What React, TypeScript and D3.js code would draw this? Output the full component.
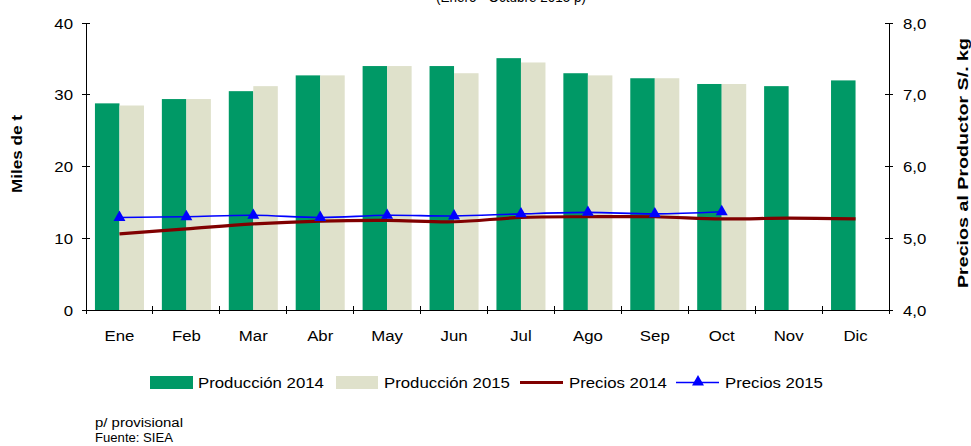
import React from "react";
import * as d3 from "d3";

const months = ["Ene", "Feb", "Mar", "Abr", "May", "Jun", "Jul", "Ago", "Sep", "Oct", "Nov", "Dic"];
const prod2014 = [28.8, 29.4, 30.5, 32.7, 34.0, 34.0, 35.1, 33.0, 32.3, 31.5, 31.2, 32.0];
const prod2015 = [28.5, 29.4, 31.2, 32.7, 34.0, 33.0, 34.5, 32.7, 32.3, 31.5, null, null];
const precios2014 = [5.06, 5.13, 5.2, 5.24, 5.25, 5.23, 5.29, 5.3, 5.3, 5.27, 5.28, 5.27];
const precios2015 = [5.29, 5.3, 5.32, 5.29, 5.32, 5.31, 5.34, 5.36, 5.34, 5.37, null, null];
const leftTicks = [0, 10, 20, 30, 40];
const rightTicks = [4, 5, 6, 7, 8];
const legendLabels = ["Producción 2014", "Producción 2015", "Precios 2014", "Precios 2015"];

const GREEN = "#009966";
const BEIGE = "#DFE1CB";
const RED = "#800000";
const BLUE = "#0000FF";
const FONT = "'Liberation Sans', Arial, sans-serif";

export default function App() {
  const W = 971, H = 446;
  const left = 86, right = 889, top = 23, bottom = 310;

  const x0 = d3.scaleBand<string>().domain(months).range([left, right]).paddingInner(0).paddingOuter(0);
  const x1 = d3.scaleBand<string>().domain(["a", "b"]).range([0, x0.bandwidth()]).paddingInner(0).paddingOuter(0.365);
  const yL = d3.scaleLinear().domain([0, 40]).range([bottom, top]);
  const yR = d3.scaleLinear().domain([4, 8]).range([bottom, top]);

  const cx = (m: string) => (x0(m) as number) + x0.bandwidth() / 2;

  const line = d3
    .line<[string, number | null]>()
    .defined((d) => d[1] != null)
    .x((d) => cx(d[0]))
    .y((d) => yR(d[1] as number))
    .curve(d3.curveCatmullRom.alpha(0.5));

  const p14 = months.map((m, i) => [m, precios2014[i]] as [string, number | null]);
  const p15 = months.map((m, i) => [m, precios2015[i]] as [string, number | null]).filter((d) => d[1] != null);

  const tri = d3.symbol().type(d3.symbolTriangle).size(62)();

  const sx = 1.12;
  const T = (p: { x: number; y: number; anchor?: string; size?: number; weight?: string; children: any }) => {
    const { x, y, anchor = "start", size = 15, weight = "normal", children } = p;
    return (
      <text
        transform={`translate(${x},${y}) scale(${sx},1)`}
        textAnchor={anchor as any}
        fontSize={size}
        fontWeight={weight}
        fontFamily={FONT}
        fill="#000"
      >
        {children}
      </text>
    );
  };

  const legY = 382;

  return (
    <svg width={W} height={H} style={{ position: "absolute", left: 0, top: 0, background: "#fff" }}>
      <rect width={W} height={H} fill="#fff" />
      {/* title, cut off at the top edge as in the reference */}
      <text x={511} y={1.5} textAnchor="middle" fontSize={14} fontFamily={FONT} textLength={150} lengthAdjust="spacingAndGlyphs">
        (Enero - Octubre 2015 p)
      </text>

      {/* bars */}
      {months.map((m, i) => (
        <g key={m}>
          <rect
            x={(x0(m) as number) + (x1("a") as number)}
            y={yL(prod2014[i])}
            width={x1.bandwidth()}
            height={bottom - yL(prod2014[i])}
            fill={GREEN}
          />
          {prod2015[i] != null && (
            <rect
              x={(x0(m) as number) + (x1("b") as number)}
              y={yL(prod2015[i] as number)}
              width={x1.bandwidth()}
              height={bottom - yL(prod2015[i] as number)}
              fill={BEIGE}
            />
          )}
        </g>
      ))}

      {/* lines */}
      <path d={line(p14) || ""} fill="none" stroke={RED} strokeWidth={3.2} />
      <path d={line(p15) || ""} fill="none" stroke={BLUE} strokeWidth={1.6} />
      {p15.map((d) => (
        <path key={d[0]} d={tri || ""} transform={`translate(${cx(d[0])},${yR(d[1] as number)})`} fill={BLUE} />
      ))}

      {/* axes */}
      <g stroke="#000" strokeWidth={1} shapeRendering="crispEdges">
        <line x1={left} x2={left} y1={top} y2={bottom} />
        <line x1={right} x2={right} y1={top} y2={bottom} />
        <line x1={left - 4} x2={right + 4} y1={bottom} y2={bottom} />
        {leftTicks.map((t) => (
          <line key={"l" + t} x1={left - 4} x2={left + 4} y1={yL(t)} y2={yL(t)} />
        ))}
        {rightTicks.map((t) => (
          <line key={"r" + t} x1={right - 4} x2={right + 4} y1={yR(t)} y2={yR(t)} />
        ))}
        {months.map((m) => (
          <line key={"x" + m} x1={x0(m) as number} x2={x0(m) as number} y1={bottom - 4} y2={bottom + 4} />
        ))}
        <line x1={right} x2={right} y1={bottom - 4} y2={bottom + 4} />
      </g>

      {leftTicks.map((t) => (
        <T key={"lt" + t} x={73} y={yL(t) + 5.5} anchor="end">
          {String(t)}
        </T>
      ))}
      {rightTicks.map((t) => (
        <T key={"rt" + t} x={903} y={yR(t) + 5.5}>
          {d3.format(".1f")(t).replace(".", ",")}
        </T>
      ))}
      {months.map((m) => (
        <T key={"m" + m} x={cx(m)} y={341} anchor="middle">
          {m}
        </T>
      ))}

      {/* axis titles */}
      <text
        transform={`translate(22,154) rotate(-90)`}
        textAnchor="middle"
        fontSize={15}
        fontWeight="bold"
        fontFamily={FONT}
        textLength={78}
        lengthAdjust="spacingAndGlyphs"
      >
        Miles de t
      </text>
      <text
        transform={`translate(968,163) rotate(-90)`}
        textAnchor="middle"
        fontSize={15}
        fontWeight="bold"
        fontFamily={FONT}
        textLength={250}
        lengthAdjust="spacingAndGlyphs"
      >
        Precios al Productor S/.  kg
      </text>

      {/* legend */}
      <rect x={150} y={legY - 6} width={43} height={13} fill={GREEN} />
      <T x={198} y={legY + 6}>{legendLabels[0]}</T>
      <rect x={336} y={legY - 6} width={42} height={13} fill={BEIGE} />
      <T x={384} y={legY + 6}>{legendLabels[1]}</T>
      <line x1={520} x2={563} y1={legY + 0.5} y2={legY + 0.5} stroke={RED} strokeWidth={3.2} />
      <T x={569} y={legY + 6}>{legendLabels[2]}</T>
      <line x1={676} x2={719} y1={legY + 0.5} y2={legY + 0.5} stroke={BLUE} strokeWidth={1.6} />
      <path d={tri || ""} transform={`translate(698,${legY})`} fill={BLUE} />
      <T x={725} y={legY + 6}>{legendLabels[3]}</T>

      {/* footnotes */}
      <text x={95} y={427} fontSize={12} fontFamily={FONT} textLength={88} lengthAdjust="spacingAndGlyphs">p/ provisional</text>
      <text x={95} y={442} fontSize={12} fontFamily={FONT} textLength={78} lengthAdjust="spacingAndGlyphs">Fuente:  SIEA</text>
    </svg>
  );
}
